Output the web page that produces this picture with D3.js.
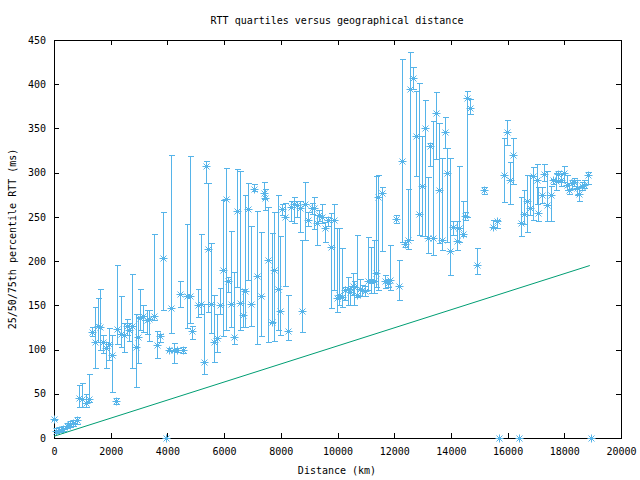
<!DOCTYPE html>
<html><head><meta charset="utf-8">
<script src="https://cdn.jsdelivr.net/npm/d3@7"></script>
<style>body{margin:0;background:#fff}svg{display:block}text{font-family:"DejaVu Sans Mono",monospace;font-size:10px;fill:#000}</style>
</head><body><svg id="c" width="640" height="480"></svg>
<script>
const distances=[0,70,188,306,447,564,681,823,880,1000,1120,1240,1352,1446,1550,1620,1717,1834,1951,2057,2175,2210,2363,2469,2563,2657,2739,2880,2951,3033,3150,3268,3362,3527,3645,3739,3856,3950,4068,4127,4245,4327,4444,4562,4680,4790,4880,5067,5185,5279,5373,5420,5538,5655,5761,5867,5973,6066,6149,6243,6349,6455,6560,6678,6737,6855,6960,7066,7172,7290,7396,7443,7560,7678,7772,7889,7972,8030,8148,8265,8360,8466,8571,8677,8759,8865,8971,9088,9182,9288,9359,9441,9558,9653,9770,9876,9970,10052,10146,10264,10358,10440,10534,10593,10675,10793,10875,10969,11087,11180,11275,11357,11439,11557,11675,11791,11851,12062,12180,12286,12380,12497,12556,12673,12768,12874,12991,13085,13203,13262,13379,13473,13590,13685,13790,13850,13967,14085,14203,14295,14414,14496,14578,14672,14908,15178,15495,15613,15695,15883,15989,16083,16200,16412,16471,16589,16694,16788,16906,17025,17082,17200,17293,17399,17518,17611,17706,17787,17882,17988,18082,18176,18259,18353,18435,18517,18611,18705,18823,18929];
const medianRtt=[21,8,9,10.5,14,16,17,20,45,44,40,44,120,108,127,125,109,102,106,94,42,123,118,116,127,122,127,103,114,136,138,133,134,138,105,115,204,0,100,147,99.5,100,163,99.5,160,161,121,150,152,86,307,214,152,109,113,150,190,270,177,152,114,257,153,139,166,259,152,282,183,160,277,271,201,131,190,169,144,259,250,121,261,265,263,260,144,265,247,260,260,243,252,250,237,246,216,246,158,162,159,167,169,165,172,171,162,169,167,166,177,178,178,186,272,277,177,175,179,248,172,313,219,224,395,407,341,253,285,350,226,330,226,368,280,224,346,300,211,239,223,237,231,251,384,373,196,280,239,245,0,297,346,292,320,0,243,253,268,260,296,292,254,275,299,264,275,292,291,299,292,300,286,280,288,290,283,276,285,286,297,0];
const q25Rtt=[20,6,7,8,11,13,14,16,35,35,35,41,115,79,109,100,96,79,88,52,38,106,103,97,116,110,79,58,85,122,120,118,110,133,90,108,145,0,98,119,85,97,148,96,124,130,112,137,140,72,288,143,119,86,97,140,115,122,165,126,106,171,122,126,126,179,127,279,106,115,270,258,108,130,110,122,116,252,172,111,245,243,250,233,120,224,240,253,236,218,245,243,222,240,147,167,143,150,148,156,150,150,162,150,159,160,161,161,167,164,164,171,167,211,170,171,167,243,156,222,216,214,224,395,296,230,228,228,209,307,207,315,220,213,328,222,184,230,213,222,228,246,250,366,185,276,237,237,0,267,331,265,287,0,228,242,233,252,246,265,245,266,291,245,245,287,280,290,285,290,280,276,282,285,275,268,280,283,287,0];
const q75Rtt=[22,11,12,14,17,19,20,24,60,62,50,72,125,148,158,168,116,109,124,116,45,196,160,130,135,130,185,140,137,168,150,145,145,231,121,118,255,0,102,320,107,102,178,103,242,319,127,168,231,152,313,288,221,162,140,170,269,305,182,234,188,304,302,168,275,288,240,287,257,233,289,282,261,232,255,275,228,265,266,162,268,273,268,268,224,289,256,266,272,252,258,265,244,250,254,265,237,237,215,171,182,172,186,177,229,180,173,172,227,216,224,296,297,284,184,180,218,252,201,428,222,282,436,419,392,401,341,382,295,334,358,391,356,317,363,328,317,245,245,307,268,256,392,383,215,284,246,246,0,339,359,312,339,0,272,280,297,297,306,310,284,284,310,302,285,293,300,302,298,308,297,288,292,294,292,284,290,292,301,0];
const lineDist=[0,18900];
const lineRtt=[2,195];
const xTicks=[0,2000,4000,6000,8000,10000,12000,14000,16000,18000,20000];
const yTicks=[0,50,100,150,200,250,300,350,400,450];
const titleText="RTT quartiles versus geographical distance";
const xLabel="Distance (km)";
const yLabel="25/50/75th percentile RTT (ms)";

const svg=d3.select("#c");
const L=54,R=621,T=40,B=438;
const x=d3.scaleLinear().domain([0,20000]).range([L,R]);
const y=d3.scaleLinear().domain([0,450]).range([B,T]);
const blue="#56b4e9", green="#009e73";

function styleAxis(g,labels){
  g.select(".domain").remove();
  g.selectAll("line").attr("stroke","#000").attr("shape-rendering","crispEdges");
  if(!labels) g.selectAll("text").remove();
  else g.selectAll("text").attr("font-family",null).attr("font-size",null);
}
svg.append("g").attr("transform",`translate(0,${B})`)
  .call(d3.axisBottom(x).tickValues(xTicks).tickSize(-5).tickPadding(10).tickFormat(d3.format("d")))
  .call(g=>styleAxis(g,true));
svg.append("g").attr("transform",`translate(0,${T})`)
  .call(d3.axisTop(x).tickValues(xTicks).tickSize(-5)).call(g=>styleAxis(g,false));
svg.append("g").attr("transform",`translate(${L},0)`)
  .call(d3.axisLeft(y).tickValues(yTicks).tickSize(-5).tickPadding(8).tickFormat(d3.format("d")))
  .call(g=>styleAxis(g,true));
svg.append("g").attr("transform",`translate(${R},0)`)
  .call(d3.axisRight(y).tickValues(yTicks).tickSize(-5)).call(g=>styleAxis(g,false));

svg.append("rect").attr("x",L+0.5).attr("y",T+0.5).attr("width",R-L).attr("height",B-T)
  .attr("fill","none").attr("stroke","#000");

svg.append("text").attr("x",337).attr("y",24).attr("text-anchor","middle").text(titleText);
svg.append("text").attr("x",337).attr("y",474).attr("text-anchor","middle").text(xLabel);
svg.append("text").attr("transform","translate(16,239) rotate(-90)").attr("text-anchor","middle").text(yLabel);

// error bars
const data=distances.map((d,i)=>({d,m:medianRtt[i],lo:q25Rtt[i],hi:q75Rtt[i]}));
const eb=svg.append("g").attr("stroke",blue).attr("stroke-width",1).attr("shape-rendering","crispEdges");
data.forEach(p=>{
  const px=Math.round(x(p.d))+0.5;
  const ylo=Math.round(y(p.lo))+0.5, yhi=Math.round(y(p.hi))+0.5;
  eb.append("line").attr("x1",px).attr("x2",px).attr("y1",ylo).attr("y2",yhi);
  eb.append("line").attr("x1",px-3).attr("x2",px+3).attr("y1",ylo).attr("y2",ylo);
  eb.append("line").attr("x1",px-3).attr("x2",px+3).attr("y1",yhi).attr("y2",yhi);
  const py=Math.round(y(p.m))+0.5, s=4;
  eb.append("path").attr("d",`M${px-s},${py}H${px+s}M${px},${py-s}V${py+s}M${px-s+1},${py-s+1}L${px+s-1},${py+s-1}M${px-s+1},${py+s-1}L${px+s-1},${py-s+1}`)
    .attr("shape-rendering","auto");
});

// theoretical line
svg.append("path").datum(lineDist.map((d,i)=>[d,lineRtt[i]]))
  .attr("d",d3.line().x(p=>x(p[0])).y(p=>y(p[1])))
  .attr("fill","none").attr("stroke",green).attr("stroke-width",1);
</script></body></html>
